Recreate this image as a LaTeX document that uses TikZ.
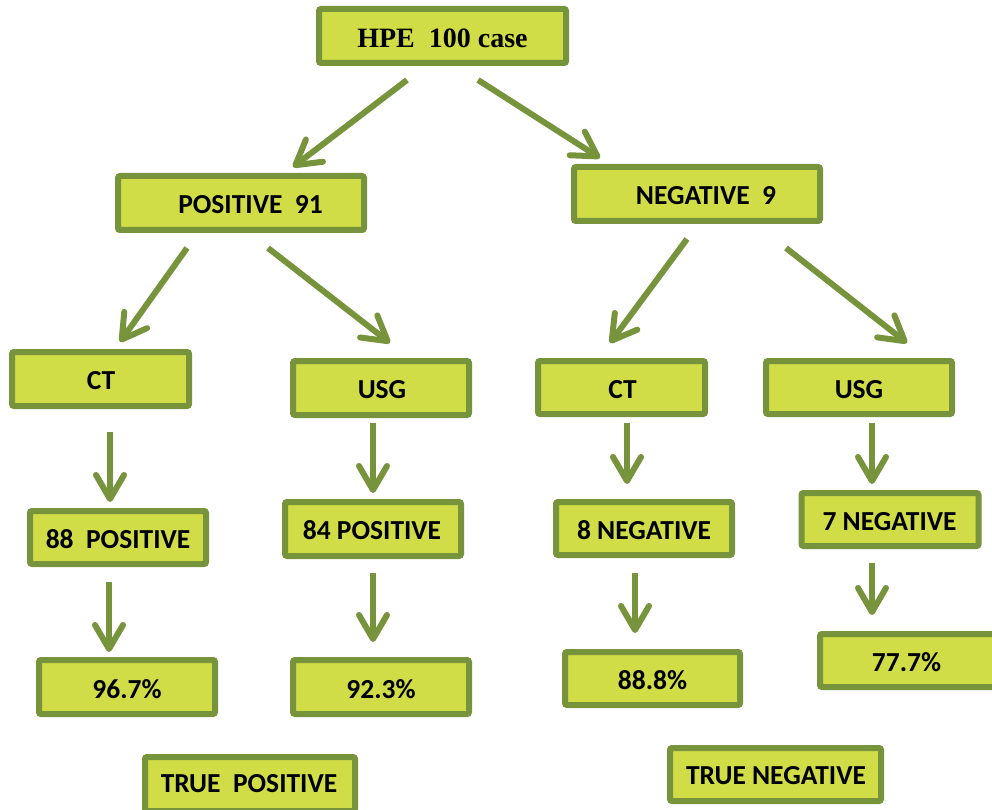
\documentclass[tikz,border=0pt]{standalone}
\usepackage{fontspec}
\setmainfont{Carlito}
\newfontfamily\serifbold{Liberation Serif}
\usetikzlibrary{arrows.meta}
\definecolor{boxfill}{RGB}{208,221,70}
\definecolor{boxline}{RGB}{119,147,60}
\tikzset{
  box/.style={draw=boxline, fill=boxfill, line width=6pt, rounded corners=2pt,
              inner sep=0pt, anchor=center},
  txt/.style={font=\fontsize{27.5}{30}\selectfont\bfseries, inner sep=0pt, anchor=center},
  flow/.style={draw=boxline, line width=6pt,
               -{Straight Barb[length=24pt,width=28pt,round]}},
}
\begin{document}
\begin{tikzpicture}[x=1pt,y=-1pt]
\useasboundingbox (0,0) rectangle (992,810);
\clip (0,0) rectangle (992,810);

% boxes: name, centre, path width, path height
\newcommand{\mybox}[4]{%
  \node[box, minimum width=#3pt, minimum height=#4pt] (#1) at (#2) {};}

\mybox{hpe}{442.5,36}{247}{54}
\mybox{pos}{241,203}{246}{54}
\mybox{neg}{697,194}{246}{54}
\mybox{ctl}{100.5,379}{177}{54}
\mybox{usgl}{381,388}{176}{54}
\mybox{ctr}{621.5,387.5}{167}{53}
\mybox{usgr}{859,387.5}{186}{53}
\mybox{pa}{118,537.5}{176}{53}
\mybox{pb}{373,529}{176}{54}
\mybox{na}{644,528.5}{176}{53}
\mybox{nb}{890,519.5}{177}{53}
\mybox{ra}{127,687}{176}{54}
\mybox{rb}{381,687}{176}{54}
\mybox{rc}{652.5,678.5}{175}{53}
\mybox{rd}{908.5,660.5}{177}{53}
\mybox{tp}{250,784}{210}{54}
\mybox{tn}{775.5,774.5}{211}{53}

% labels
\node[txt, font=\fontsize{28}{30}\selectfont\serifbold\bfseries] (hpe-t) at (442.5,38) {HPE\ \ 100 case};
\node[txt] (pos-t) at (250.5,205) {POSITIVE\ \ 91};
\node[txt] (neg-t) at (706,196) {NEGATIVE\ \ 9};
\node[txt] (ctl-t) at (101,381) {CT};
\node[txt] (usgl-t) at (382,390) {USG};
\node[txt] (ctr-t) at (622.5,390) {CT};
\node[txt] (usgr-t) at (859,390) {USG};
\node[txt] (pa-t) at (118,539) {88\ \ POSITIVE};
\node[txt] (pb-t) at (372,530) {84 POSITIVE};
\node[txt] (na-t) at (644,530) {8 NEGATIVE};
\node[txt] (nb-t) at (889.5,522) {7 NEGATIVE};
\node[txt] (ra-t) at (127,689) {96.7\%};
\node[txt] (rb-t) at (381,689) {92.3\%};
\node[txt] (rc-t) at (652.5,680) {88.8\%};
\node[txt] (rd-t) at (906.5,662) {77.7\%};
\node[txt] (tp-t) at (249,784) {TRUE\ \ POSITIVE};
\node[txt] (tn-t) at (776,776) {TRUE NEGATIVE};

% arrow end points
\coordinate (a1s) at (407,80);   \coordinate (a1e) at (293,167);
\coordinate (a2s) at (478,80);   \coordinate (a2e) at (600,158);
\coordinate (b1s) at (187,248);  \coordinate (b1e) at (120,342);
\coordinate (b2s) at (268,248);  \coordinate (b2e) at (390,343);
\coordinate (b3s) at (687,239);  \coordinate (b3e) at (610,343);
\coordinate (b4s) at (786,248);  \coordinate (b4e) at (907,343);
\coordinate (c1s) at (110,432);  \coordinate (c1e) at (110,502);
\coordinate (c2s) at (373,423);  \coordinate (c2e) at (373,493);
\coordinate (c3s) at (627,423);  \coordinate (c3e) at (627,484);
\coordinate (c4s) at (872,423);  \coordinate (c4e) at (872,484);
\coordinate (d1s) at (109,582);  \coordinate (d1e) at (109,652);
\coordinate (d2s) at (373,573);  \coordinate (d2e) at (373,642);
\coordinate (d3s) at (635,573);  \coordinate (d3e) at (635,633);
\coordinate (d4s) at (872,563);  \coordinate (d4e) at (872,615);

\foreach \a in {a1,a2,b1,b2,b3,b4,c1,c2,c3,c4,d1,d2,d3,d4}
  \draw[flow] (\a s) -- (\a e);
\end{tikzpicture}
\end{document}
